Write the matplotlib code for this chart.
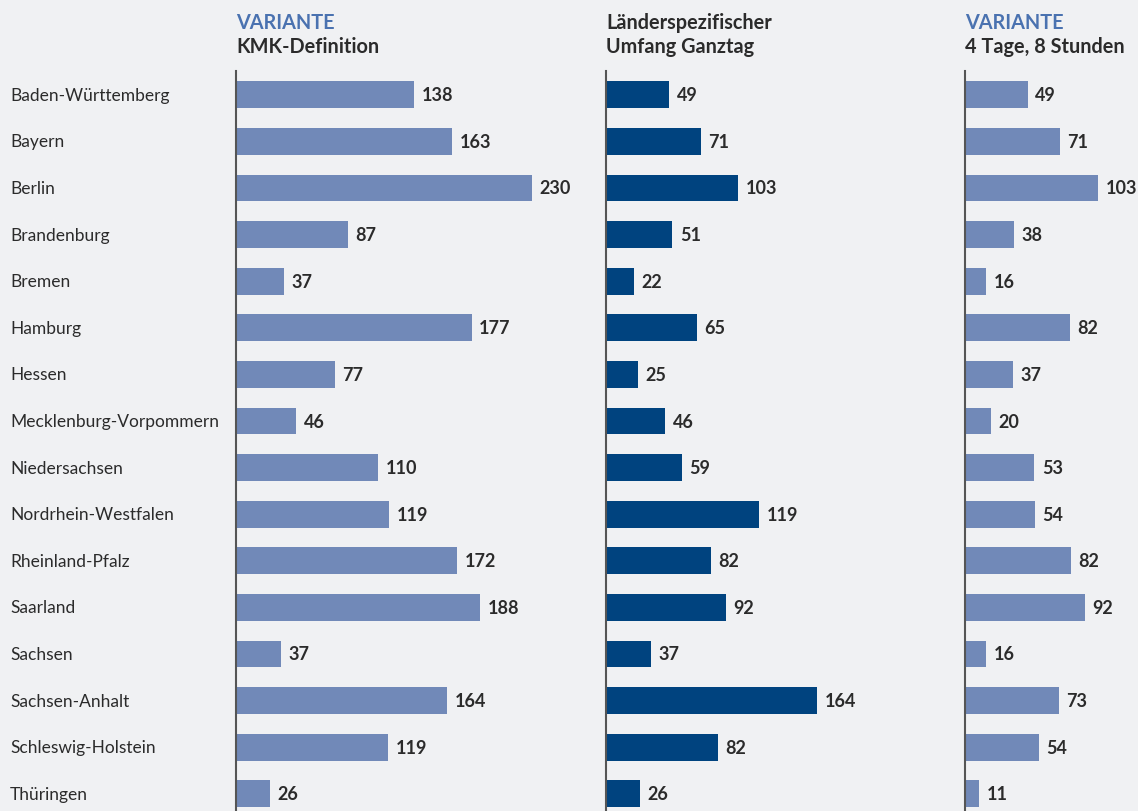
import matplotlib.pyplot as plt
import matplotlib.transforms as mtransforms

plt.rcParams['font.family'] = ['Lato', 'DejaVu Sans']

# Bundesländer
laender = ["Baden-Württemberg", "Bayern", "Berlin", "Brandenburg", "Bremen",
           "Hamburg", "Hessen", "Mecklenburg-Vorpommern", "Niedersachsen",
           "Nordrhein-Westfalen", "Rheinland-Pfalz", "Saarland", "Sachsen",
           "Sachsen-Anhalt", "Schleswig-Holstein", "Thüringen"]

# beschriftete Werte der drei Varianten
kmk = [138, 163, 230, 87, 37, 177, 77, 46, 110, 119, 172, 188, 37, 164, 119, 26]
laenderspez = [49, 71, 103, 51, 22, 65, 25, 46, 59, 119, 82, 92, 37, 164, 82, 26]
vier_tage = [49, 71, 103, 38, 16, 82, 37, 20, 53, 54, 82, 92, 16, 73, 54, 11]

# Balkenlängen, wie sie im Bild gezeichnet sind (weichen teils leicht ab)
kmk_balken = [139, 169, 231, 87.5, 37.5, 184, 77.3, 47, 111, 119.5, 172.7, 190.6, 35, 164.8, 118.8, 26.5]
laenderspez_balken = [49.2, 74, 103, 51.6, 22, 71, 25, 46, 59.4, 119.5, 82, 93.8, 35, 164.8, 87.5, 26.5]
vier_tage_balken = [49, 74, 104, 38, 16.4, 82, 37.5, 20.3, 54, 54.7, 82.8, 93.8, 16.4, 73.4, 57.8, 11]

kopf_oben = ["VARIANTE", None, "VARIANTE"]
kopf_unten = ["KMK-Definition", "Länderspezifischer\nUmfang Ganztag", "4 Tage, 8 Stunden"]

hell = "#7189b8"
dunkel = "#00437f"
blau_text = "#4a72b0"
bg = "#f0f1f3"
textfarbe = "#2b2b2b"

W, H = 1138, 812
fig = plt.figure(figsize=(W / 100, H / 100), dpi=100, facecolor=bg)

px_pro_einheit = 1.28
links = [236, 606, 965]
breiten = [354, 354, 173]
farben = [hell, dunkel, hell]
labels = [kmk, laenderspez, vier_tage]
balken = [kmk_balken, laenderspez_balken, vier_tage_balken]

top_px, bot_px = 72, 812
y0, dy = 95.8, 46.6
ylim = ((bot_px - y0) / dy, (top_px - y0) / dy)

for k in range(3):
    ax = fig.add_axes([links[k] / W, 1 - bot_px / H, breiten[k] / W, (bot_px - top_px) / H])
    ax.patch.set_alpha(0)
    werte = balken[k]
    pos = list(range(len(werte)))
    ax.barh(pos, werte, height=0.573, color=farben[k], zorder=2)
    for p, v, t in zip(pos, werte, labels[k]):
        ax.annotate(str(t), (v, p), xytext=(5.5, 0), textcoords="offset points",
                    va="center", ha="left", fontsize=13, fontweight="bold",
                    color=textfarbe)
    ax.set_xlim(0, breiten[k] / px_pro_einheit)
    ax.set_ylim(*ylim)
    for s in ["top", "right", "bottom"]:
        ax.spines[s].set_visible(False)
    ax.spines["left"].set_color("#555555")
    ax.spines["left"].set_linewidth(1.5)
    ax.set_xticks([])
    ax.set_yticks([])
    if k == 0:
        trans = mtransforms.blended_transform_factory(fig.transFigure, ax.transData)
        for p, name in zip(pos, laender):
            ax.text(10 / W, p, name, transform=trans, ha="left", va="center",
                    fontsize=12.5, color=textfarbe)
    x = links[k] / W
    if kopf_oben[k]:
        fig.text(x, 1 - 23 / H, kopf_oben[k], ha="left", va="center",
                 fontsize=14.3, fontweight="bold", color=blau_text)
        fig.text(x, 1 - 47 / H, kopf_unten[k], ha="left", va="center",
                 fontsize=14.3, fontweight="bold", color=textfarbe)
    else:
        fig.text(x, 1 - 35 / H, kopf_unten[k], ha="left", va="center",
                 fontsize=14.3, fontweight="bold", color=textfarbe,
                 linespacing=1.2)

fig.savefig("out.png", dpi=100, facecolor=bg)
